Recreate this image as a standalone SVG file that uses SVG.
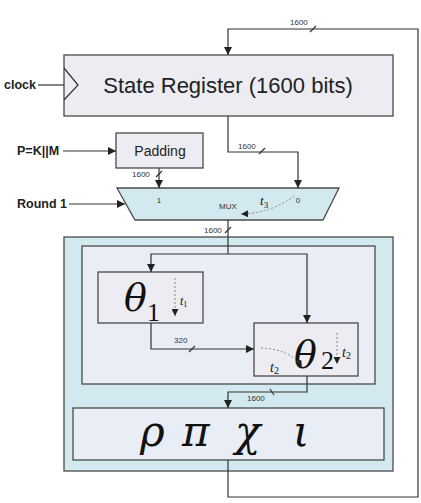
<svg xmlns="http://www.w3.org/2000/svg" width="421" height="503" viewBox="0 0 421 503">
<defs>
<style>
.box{stroke:#4a4a4a;stroke-width:1.3}
.ln{fill:none;stroke:#333;stroke-width:1.2}
.dash{fill:none;stroke:#888;stroke-width:1;stroke-dasharray:2,2}
.lbl{font-family:"Liberation Sans",Arial,sans-serif;font-weight:bold;font-size:12.5px;fill:#222}
.sm{font-family:"Liberation Sans",Arial,sans-serif;font-size:8px;fill:#333}
.math{font-family:"DejaVu Serif",serif;font-style:italic;fill:#111}
.num{font-family:"Liberation Serif","DejaVu Serif",serif;fill:#111}
.tt{font-family:"Liberation Serif",serif;font-style:italic;fill:#111}
</style>
<marker id="ar" viewBox="0 0 10 10" refX="10" refY="5" markerWidth="8" markerHeight="8" markerUnits="userSpaceOnUse" orient="auto">
<path d="M0,0 L10,5 L0,10 z" fill="#222"/>
</marker>
<marker id="ars" viewBox="0 0 10 10" refX="10" refY="5" markerWidth="7" markerHeight="7" markerUnits="userSpaceOnUse" orient="auto">
<path d="M0,0 L10,5 L0,10 z" fill="#222"/>
</marker>
</defs>
<rect width="421" height="503" fill="#fff"/>

<g id="outer-round">
<rect class="box" x="64" y="237" width="329" height="234" fill="#d2e9ef"/>
</g>
<g id="theta-area">
<rect class="box" x="82" y="246" width="293" height="138" fill="#e9edf6"/>
</g>

<g id="state-register">
<rect class="box" x="64" y="55" width="329" height="61" fill="#ececf2"/>
<path d="M64,68 L78,85 L64,100" fill="none" stroke="#333" stroke-width="1.2"/>
<text x="228" y="93" text-anchor="middle" font-family="Liberation Sans,Arial,sans-serif" font-size="22" fill="#222">State Register (1600 bits)</text>
</g>

<g id="clock">
<text class="lbl" x="36" y="89" text-anchor="end" font-size="13">clock</text>
</g>

<g id="padding">
<rect class="box" x="116" y="133" width="87" height="35" fill="#ececf2"/>
<text x="160" y="156" text-anchor="middle" font-family="Liberation Sans,Arial,sans-serif" font-size="14" fill="#222">Padding</text>
</g>
<g id="input-pk">
<text class="lbl" x="17" y="155">P=K||M</text>
</g>
<g id="round1">
<text class="lbl" x="17" y="208">Round 1</text>
</g>

<g id="mux">
<path class="box" d="M117,188 L339,188 L323,220 L135,220 Z" fill="#d2e9ef"/>
<text class="sm" x="159" y="203" text-anchor="middle">1</text>
<text class="sm" x="298" y="203" text-anchor="middle">0</text>
<text class="sm" x="228" y="209" text-anchor="middle">MUX</text>
<text class="tt" x="260" y="205" font-size="13">t<tspan font-size="9" dy="3" font-style="normal">3</tspan></text>
<path class="dash" d="M294,196 Q272,213 241,214" marker-end="url(#ars)"/>
</g>

<g id="theta1">
<rect class="box" x="98" y="272" width="105" height="51" fill="#ececf2"/>
<text class="math" x="124" y="311" font-size="38">θ</text>
<text class="num" x="147" y="321" font-size="26">1</text>
<path class="dash" d="M175,278 L175,316" marker-end="url(#ars)"/>
<text class="tt" x="180" y="305" font-size="12">t<tspan font-size="8" dy="2" font-style="normal">1</tspan></text>
</g>

<g id="theta2">
<rect class="box" x="254" y="323" width="104" height="53" fill="#ececf2"/>
<text class="math" x="294" y="368" font-size="38">θ</text>
<text class="num" x="321" y="369" font-size="26">2</text>
<path class="dash" d="M337,333 L337,364" marker-end="url(#ars)"/>
<text class="tt" x="342" y="357" font-size="14">t<tspan font-size="10" dy="2" font-style="normal">2</tspan></text>
<path class="dash" d="M261,348 Q290,349 302,367" marker-end="url(#ars)"/>
<text class="tt" x="270" y="372" font-size="14">t<tspan font-size="10" dy="2" font-style="normal">2</tspan></text>
</g>

<g id="rho-pi-chi-iota">
<rect class="box" x="73" y="408" width="311" height="52" fill="#e9edf6"/>
<text class="math" x="140" y="446" font-size="42">ρ</text>
<text class="math" x="182" y="446" font-size="42">π</text>
<text class="math" x="235" y="446" font-size="42">χ</text>
<text class="math" x="293" y="446" font-size="42">ι</text>
</g>

<g id="connectors">
<line class="ln" x1="38" y1="85" x2="64" y2="85"/>
<line class="ln" x1="63" y1="151" x2="116" y2="151" marker-end="url(#ar)"/>
<line class="ln" x1="69" y1="204" x2="125" y2="204" marker-end="url(#ar)"/>
<path class="ln" d="M159,168 L159,188" marker-end="url(#ar)"/>
<path class="ln" d="M228,116 L228,152 L298,152 L298,188" marker-end="url(#ar)"/>
<path class="ln" d="M228,220 L228,254"/>
<path class="ln" d="M228,254 L151,254 L151,272" marker-end="url(#ar)"/>
<path class="ln" d="M228,254 L307,254 L307,323" marker-end="url(#ar)"/>
<path class="ln" d="M151,323 L151,349 L254,349" marker-end="url(#ar)"/>
<path class="ln" d="M307,376 L307,392 L228,392 L228,408" marker-end="url(#ar)"/>
<path class="ln" d="M228,460 L228,497 L418,497 L418,29 L228,29 L228,55" marker-end="url(#ar)"/>
<line class="ln" x1="310" y1="32" x2="316" y2="26"/>
<line class="ln" x1="259" y1="154" x2="265" y2="148"/>
<line class="ln" x1="156" y1="177" x2="162" y2="171"/>
<line class="ln" x1="225" y1="233" x2="231" y2="227"/>
<line class="ln" x1="189" y1="352" x2="195" y2="346"/>
<line class="ln" x1="270" y1="389" x2="274" y2="395"/>
<text class="sm" x="290" y="25">1600</text>
<text class="sm" x="238" y="149">1600</text>
<text class="sm" x="132" y="177">1600</text>
<text class="sm" x="204" y="233">1600</text>
<text class="sm" x="174" y="343">320</text>
<text class="sm" x="247" y="401">1600</text>
</g>
</svg>
